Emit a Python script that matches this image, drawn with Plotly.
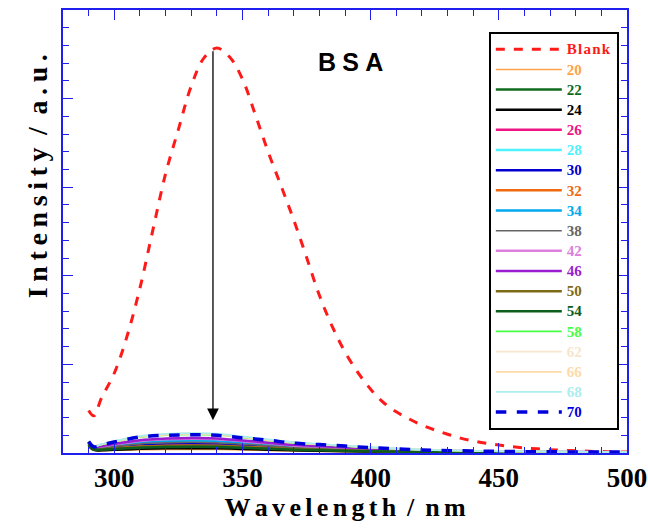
import plotly.graph_objects as go

# ---------------- data ----------------
blank_wl = [290, 292, 295, 300, 305, 310, 315, 320, 325, 330, 335, 340, 345, 350,
            355, 360, 365, 370, 375, 380, 385, 390, 395, 400, 405, 410, 415, 420,
            425, 430, 435, 440, 445, 450, 455, 460, 465, 470, 475, 480, 485, 490,
            495, 500]
blank_int = [48, 42, 62, 90, 132, 186, 251, 315, 365, 414, 446, 457, 447, 422,
             382, 340, 302, 263, 221, 178, 143, 114, 91, 72, 57, 46.5, 38.5, 31.5,
             26, 21.2, 16.8, 13.5, 11, 9, 7.2, 5.8, 4.7, 3.8, 3.1, 2.5, 2, 1.6,
             1.2, 1]

wl = [290, 292, 295, 300, 310, 320, 330, 340, 350, 360, 370, 380, 390, 400, 420, 440, 460, 480, 500]

conc_labels = ["20", "22", "24", "26", "28", "30", "32", "34", "38", "42",
               "46", "50", "54", "58", "62", "66", "68", "70"]

s20 = [6, 3, 2.5, 3, 3.6, 3.9, 4.0, 3.9, 3.4, 2.8, 2.2, 1.8, 1.5, 1.2, 0.8, 0.5, 0.4, 0.3, 0.3]
s22 = [9, 4, 3.5, 4.2, 5.6, 6.2, 6.5, 6.3, 5.4, 4.4, 3.5, 2.9, 2.4, 1.9, 1.1, 0.7, 0.5, 0.4, 0.3]
s24 = [8, 3.5, 3, 3.6, 4.7, 5.3, 5.5, 5.3, 4.6, 3.7, 3.0, 2.5, 2.0, 1.6, 0.9, 0.6, 0.4, 0.3, 0.3]
s26 = [11, 5, 5.5, 7, 9.4, 10.6, 11, 10.7, 9.1, 7.5, 5.9, 5.0, 4.1, 3.2, 1.9, 1.2, 0.9, 0.7, 0.5]
s28 = [12, 6, 6.5, 8, 11, 12.5, 13, 12.6, 10.8, 8.8, 7.0, 5.9, 4.8, 3.8, 2.2, 1.4, 1.0, 0.8, 0.6]
s30 = [12, 5, 5, 6.2, 8.5, 9.6, 10, 9.7, 8.3, 6.8, 5.4, 4.5, 3.7, 2.9, 1.7, 1.1, 0.8, 0.6, 0.5]
s32 = [10, 4.5, 4.2, 5.2, 7.2, 8.2, 8.5, 8.2, 7.1, 5.8, 4.6, 3.8, 3.1, 2.5, 1.4, 0.9, 0.7, 0.5, 0.4]
s34 = [12, 6.5, 7, 8.6, 11.9, 13.4, 14, 13.6, 11.6, 9.5, 7.6, 6.3, 5.2, 4.1, 2.4, 1.5, 1.1, 0.8, 0.7]
s38 = [11, 5.5, 6, 7.3, 10.2, 11.5, 12, 11.6, 10, 8.2, 6.5, 5.4, 4.4, 3.5, 2.0, 1.3, 1.0, 0.7, 0.6]
s42 = [12, 7, 7.5, 9.8, 13.6, 15.4, 16, 15.5, 13.3, 10.9, 8.6, 7.2, 5.9, 4.6, 2.7, 1.8, 1.3, 1.0, 0.8]
s46 = [12, 7, 8, 10.2, 14.5, 16.3, 17, 16.5, 14.1, 11.6, 9.2, 7.7, 6.3, 4.9, 2.9, 1.9, 1.4, 1.0, 0.9]
s50 = [10, 4, 4, 5, 6.8, 7.7, 8, 7.8, 6.6, 5.4, 4.3, 3.6, 3.0, 2.3, 1.4, 0.9, 0.6, 0.5, 0.4]
s54 = [9, 4, 3.8, 4.5, 6, 6.7, 7, 6.8, 5.8, 4.8, 3.8, 3.2, 2.6, 2.0, 1.2, 0.8, 0.6, 0.4, 0.4]
s58 = [13, 8, 9.5, 12.6, 17.9, 20.2, 21, 20.4, 17.4, 14.3, 11.3, 9.5, 7.8, 6.1, 3.6, 2.3, 1.7, 1.3, 1.1]
s62 = [13, 8, 9.8, 13.2, 18.7, 21.1, 22, 21.3, 18.3, 15, 11.9, 9.9, 8.1, 6.4, 3.7, 2.4, 1.8, 1.3, 1.1]
s66 = [13, 8, 9.6, 12.9, 18.3, 20.6, 21.5, 20.9, 17.8, 14.6, 11.6, 9.7, 8.0, 6.2, 3.7, 2.4, 1.7, 1.3, 1.1]
s68 = [13, 8, 10, 13.5, 19.1, 21.6, 22.5, 21.8, 18.7, 15.3, 12.2, 10.1, 8.3, 6.5, 3.8, 2.5, 1.8, 1.4, 1.1]
s70 = [13, 7, 9, 12.5, 18, 20, 20.5, 20, 17, 14.5, 11, 9.5, 7.8, 6, 3.5, 2.2, 1.5, 1.2, 1.0]

series = [s20, s22, s24, s26, s28, s30, s32, s34, s38, s42, s46, s50, s54, s58, s62, s66, s68, s70]

x_ticks = [300, 350, 400, 450, 500]

# ---------------- styles ----------------
colors = ["#ffa347", "#0f6b1f", "#000000", "#ee1485", "#4df2ff", "#0000d0",
          "#ee6a10", "#00aaee", "#666666", "#dd80dd", "#9a1ed0", "#7d6a14",
          "#0d5e1d", "#44ff44", "#f5e6cc", "#ffd9a8", "#aaeeee", "#0000dd"]
widths = [1.5, 2.5, 2.5, 2.5, 2.5, 2.5, 2.5, 2.5, 1.5, 2.5, 2.5, 2.5, 2.5, 1.8,
          1.8, 1.8, 1.8, 3.5]

serif = "Liberation Serif"
axis_blue = "#2020ee"
THIN = "\u2009"
SIX = "\u2006"
FOUR = "\u2005"


def spaced(word, sep):
    return sep.join(list(word))


def legend_label(text, color):
    return f"<span style='color:{color};font-size:15px'>{text}</span>"


xtitle = spaced("Wavelength", SIX) + SIX + " / " + SIX + spaced("nm", SIX)
ytitle = spaced("Intensity", THIN) + THIN + " / " + THIN + spaced("a.u.", THIN)

fig = go.Figure()

fig.add_trace(go.Scatter(
    x=blank_wl, y=blank_int, mode="lines", line_shape="spline",
    line=dict(color="#ff1a1a", width=3, dash="dash"),
    name=legend_label(spaced("Blank", "\u200a"), "#ff1a1a")))

for lab, ys, c, w in zip(conc_labels, series, colors, widths):
    fig.add_trace(go.Scatter(
        x=wl, y=ys, mode="lines", line_shape="spline",
        line=dict(color=c, width=w, dash="dash" if lab == "70" else "solid"),
        name=legend_label(lab, c)))

fig.add_annotation(x=338.5, y=37, ax=338.5, ay=455, xref="x", yref="y",
                   axref="x", ayref="y", showarrow=True, arrowhead=2,
                   arrowsize=1.8, arrowwidth=1.3, arrowcolor="black", text="")

fig.add_annotation(x=0.509, y=0.883, xref="paper", yref="paper",
                   xanchor="center", yanchor="middle",
                   text="<b>" + spaced("BSA", FOUR) + "</b>", showarrow=False,
                   font=dict(family="Liberation Sans", size=25, color="black"))

fig.add_annotation(x=-0.046, y=0.625, xref="paper", yref="paper",
                   xanchor="center", yanchor="middle",
                   text="<b>" + ytitle + "</b>", textangle=-90,
                   showarrow=False,
                   font=dict(family=serif, size=28, color="black"))

fig.update_layout(
    width=648, height=531,
    margin=dict(l=63, r=21, t=10, b=78, autoexpand=False),
    paper_bgcolor="white", plot_bgcolor="white",
    showlegend=True,
    legend=dict(x=0.755, y=0.95, xanchor="left", yanchor="top",
                bgcolor="white", bordercolor="black", borderwidth=2,
                font=dict(family=serif, size=13.2, color="black", weight="bold"),
                itemwidth=66, tracegroupgap=0),
    xaxis=dict(range=[280, 500], tickvals=x_ticks,
               ticktext=[f"<b>{t}</b>" for t in x_ticks],
               ticks="inside", ticklen=10, tickwidth=1.3, tickcolor=axis_blue,
               minor=dict(dtick=10, ticks="inside", ticklen=6, tickcolor=axis_blue,
                          tickwidth=1.2, showgrid=False),
               showline=True, linecolor=axis_blue, linewidth=1.5, mirror="allticks",
               showgrid=False, zeroline=False, automargin=False,
               tickfont=dict(family=serif, size=27, color="black"),
               title=dict(text="<b>" + xtitle + "</b>",
                          font=dict(family=serif, size=26, color="black"),
                          standoff=3)),
    yaxis=dict(range=[0, 500], dtick=100, showticklabels=False,
               ticks="inside", ticklen=10, tickwidth=1.3, tickcolor=axis_blue,
               minor=dict(dtick=20, ticks="inside", ticklen=6, tickcolor=axis_blue,
                          tickwidth=1.2, showgrid=False),
               showline=True, linecolor=axis_blue, linewidth=1.5, mirror="allticks",
               showgrid=False, zeroline=False, automargin=False),
)

fig.write_html("out.html", config={"displayModeBar": False},
               post_script="document.body.style.margin='0';document.body.style.overflow='hidden';")
